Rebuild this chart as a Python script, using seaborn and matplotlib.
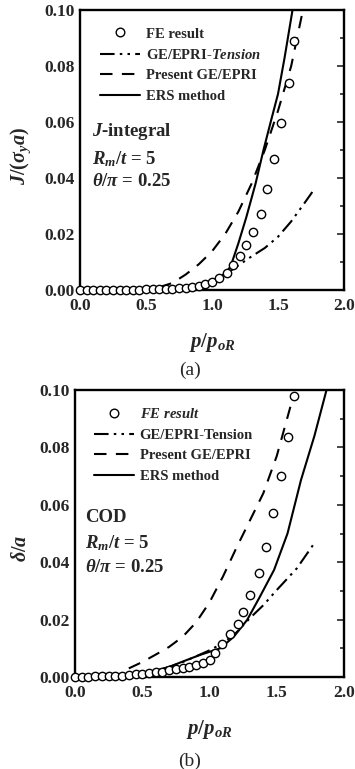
import numpy as np
import pandas as pd
import matplotlib
matplotlib.use("Agg")
import matplotlib.pyplot as plt
from matplotlib.lines import Line2D
from matplotlib.ticker import MultipleLocator
from matplotlib.font_manager import FontProperties
import seaborn as sns

# ---------------- data (a) J-integral ----------------
fe_x_a = [0.00, 0.05, 0.10, 0.15, 0.20, 0.25, 0.30, 0.35, 0.40, 0.45, 0.50,
          0.55, 0.60, 0.65, 0.70, 0.75, 0.80, 0.85, 0.90, 0.95, 1.00,
          1.055, 1.11, 1.16, 1.21, 1.26, 1.31, 1.37, 1.42, 1.47, 1.52, 1.58, 1.62]
fe_y_a = [0.0, 0.0, 0.0, 0.0, 0.0, 0.0, 0.0001, 0.0001, 0.0001, 0.0001, 0.0002,
          0.0002, 0.0003, 0.0004, 0.0005, 0.0006, 0.0008, 0.0011, 0.0015, 0.0021, 0.0030,
          0.0042, 0.0060, 0.0089, 0.0123, 0.0160, 0.0208, 0.0270, 0.0360, 0.0467, 0.0595, 0.0740, 0.0890]

tens_x_a = [0.6, 0.7, 0.8, 0.9, 1.0, 1.1, 1.2, 1.3, 1.4, 1.5, 1.6, 1.7, 1.76]
tens_y_a = [0.0002, 0.0004, 0.0008, 0.0015, 0.0028, 0.0055, 0.0088, 0.0120, 0.0150,
            0.0190, 0.0245, 0.0310, 0.0350]

pres_x_a = [0.6, 0.7, 0.8, 0.9, 1.0, 1.1, 1.2, 1.3, 1.4, 1.5, 1.6, 1.68]
pres_y_a = [0.0010, 0.0025, 0.0055, 0.0092, 0.0138, 0.0200, 0.0280, 0.0380, 0.0500,
            0.0640, 0.0800, 0.0980]

ers_x_a = [0.6, 0.7, 0.8, 0.9, 1.0, 1.05, 1.1, 1.14, 1.2, 1.26, 1.33, 1.39, 1.45, 1.5, 1.55, 1.61]
ers_y_a = [0.0003, 0.0006, 0.0011, 0.0018, 0.0030, 0.0042, 0.0060, 0.0083, 0.0167, 0.0260,
           0.0380, 0.0500, 0.0610, 0.0700, 0.0830, 0.1000]

# ---------------- data (b) COD ----------------
fe_x_b = [0.00, 0.05, 0.10, 0.15, 0.20, 0.25, 0.30, 0.35, 0.40, 0.45, 0.50,
          0.55, 0.60, 0.65, 0.70, 0.75, 0.80, 0.85, 0.90, 0.95, 1.00,
          1.04, 1.09, 1.15, 1.21, 1.25, 1.30, 1.37, 1.42, 1.47, 1.53, 1.58, 1.63]
fe_y_b = [0.0, 0.0001, 0.0001, 0.0002, 0.0002, 0.0003, 0.0004, 0.0005, 0.0007, 0.0009, 0.0011,
          0.0013, 0.0016, 0.0019, 0.0023, 0.0027, 0.0031, 0.0035, 0.0042, 0.0049, 0.0060,
          0.0085, 0.0115, 0.0150, 0.0185, 0.0228, 0.0286, 0.0361, 0.0454, 0.0570, 0.0700, 0.0836, 0.0980]

tens_x_b = [0.4, 0.5, 0.6, 0.7, 0.8, 0.9, 1.0, 1.1, 1.2, 1.3, 1.4, 1.5, 1.65, 1.77]
tens_y_b = [0.0007, 0.0013, 0.0022, 0.0035, 0.0052, 0.0072, 0.0093, 0.0118, 0.0155,
            0.0205, 0.0250, 0.0303, 0.0379, 0.0460]

pres_x_b = [0.4, 0.5, 0.6, 0.7, 0.8, 0.9, 1.0, 1.1, 1.2, 1.3, 1.4, 1.5, 1.63]
pres_y_b = [0.0030, 0.0052, 0.0078, 0.0105, 0.0140, 0.0190, 0.0260, 0.0350, 0.0450,
            0.0545, 0.0640, 0.0770, 0.0990]

ers_x_b = [0.4, 0.5, 0.6, 0.7, 0.78, 0.93, 1.08, 1.18, 1.28, 1.375, 1.48, 1.58, 1.68, 1.78, 1.87]
ers_y_b = [0.0007, 0.0013, 0.0022, 0.0035, 0.0050, 0.0077, 0.0100, 0.0140, 0.0199, 0.0280,
           0.0373, 0.0500, 0.0686, 0.0840, 0.1000]

x_ticks = [0.0, 0.5, 1.0, 1.5, 2.0]
y_ticks = [0.00, 0.02, 0.04, 0.06, 0.08, 0.10]

# ---------------- style ----------------
sns.set_style("white")
plt.rcParams['font.family'] = ['Liberation Serif', 'DejaVu Serif']
plt.rcParams['font.weight'] = 'bold'
plt.rcParams['mathtext.fontset'] = 'custom'
plt.rcParams['mathtext.rm'] = 'Liberation Serif:bold'
plt.rcParams['mathtext.it'] = 'Liberation Serif:bold:italic'
plt.rcParams['mathtext.bf'] = 'Liberation Serif:bold'

DASHDOT = (0, (7, 2.5, 1.2, 2.5, 1.2, 2.5))
DASHED = (0, (6, 4.5))
LW = 1.5

fig = plt.figure(figsize=(3.55, 7.69), dpi=100)
ax_a = fig.add_axes([80 / 355, 1 - 290 / 769, 264 / 355, 280 / 769])
ax_b = fig.add_axes([75 / 355, 1 - 677 / 769, 269 / 355, 287 / 769])

panels = [
    (ax_a, fe_x_a, fe_y_a, tens_x_a, tens_y_a, pres_x_a, pres_y_a, ers_x_a, ers_y_a),
    (ax_b, fe_x_b, fe_y_b, tens_x_b, tens_y_b, pres_x_b, pres_y_b, ers_x_b, ers_y_b),
]

for ax, fx, fy, tx, ty, px, py, ex, ey in panels:
    sns.lineplot(x=tx, y=ty, ax=ax, color='black', lw=LW, linestyle=DASHDOT)
    sns.lineplot(x=px, y=py, ax=ax, color='black', lw=LW, linestyle=DASHED)
    sns.lineplot(x=ex, y=ey, ax=ax, color='black', lw=LW, linestyle='-')
    sns.scatterplot(x=fx, y=fy, ax=ax, marker='o', s=36, facecolor='white',
                    edgecolor='black', linewidth=1.0, zorder=5, clip_on=False)
    ax.set_xlim(0, 2.0)
    ax.set_ylim(0, 0.10)
    ax.set_xticks(x_ticks)
    ax.set_yticks(y_ticks)
    ax.set_xticklabels([f"{v:.1f}" for v in x_ticks])
    ax.set_yticklabels([f"{v:.2f}" for v in y_ticks])
    ax.xaxis.set_minor_locator(MultipleLocator(0.1))
    ax.yaxis.set_minor_locator(MultipleLocator(0.01))
    ax.tick_params(which='both', direction='in', right=True, top=False,
                   labelsize=12.5, width=1.2)
    ax.tick_params(axis='x', which='both', pad=6)
    ax.tick_params(axis='y', which='both', pad=4)
    ax.tick_params(which='major', length=5)
    ax.tick_params(which='minor', length=3)
    for lab in ax.get_xticklabels() + ax.get_yticklabels():
        lab.set_fontweight('bold')
    for sp in ax.spines.values():
        sp.set_linewidth(1.7)
        sp.set_color('black')

# axis labels
ax_a.set_ylabel(r'$J/(\sigma_y a)$', fontsize=14.5)
ax_b.set_ylabel(r'$\delta/a$', fontsize=14.5)
ax_a.yaxis.set_label_coords((33 - 80) / 264, 0.48)
ax_b.yaxis.set_label_coords((31 - 75) / 269, 0.45)
for ax in (ax_a, ax_b):
    ax.set_xlabel(r'$p/p_{oR}$', fontsize=15, labelpad=12)

fig.text(190 / 355, 1 - 370 / 769, '(a)', ha='center', va='center',
         fontsize=14, fontweight='normal')
fig.text(190 / 355, 1 - 761 / 769, '(b)', ha='center', va='center',
         fontsize=14, fontweight='normal')

# annotations
def ann(ax, x0, lines):
    for txt, yy in lines:
        ax.text(x0, yy, txt, transform=ax.transAxes, fontsize=13.5, ha='left', va='center')

ann(ax_a, 0.045, [(r'$J$-integral', (290 - 132) / 280),
                  (r'$R_m/t$ = 5', (290 - 159) / 280),
                  (r'$\theta/\pi$ = 0.25', (290 - 182) / 280)])
ann(ax_b, 0.037, [('COD', (677 - 517) / 287),
                  (r'$R_m/t$ = 5', (677 - 543) / 287),
                  (r'$\theta/\pi$ = 0.25', (677 - 568) / 287)])

# legends
def make_handles():
    return [
        Line2D([], [], linestyle='none', marker='o', markersize=6.2,
               markerfacecolor='white', markeredgecolor='black', markeredgewidth=1.0),
        Line2D([], [], color='black', lw=LW, linestyle=DASHDOT),
        Line2D([], [], color='black', lw=LW, linestyle=DASHED),
        Line2D([], [], color='black', lw=LW, linestyle='-'),
    ]

labels_a = ['FE result', r'GE/EPRI-$Tension$', 'Present GE/EPRI', 'ERS method']
labels_b = [r'$FE\ result$', 'GE/EPRI-Tension', 'Present GE/EPRI', 'ERS method']
prop = FontProperties(family='Liberation Serif', weight='bold', size=10.5)

for ax, labels, bbox in [
    (ax_a, labels_a, (8 / 264, 0.0, 195 / 264, (290 - 15) / 280)),
    (ax_b, labels_b, (7 / 269, 0.0, 198 / 269, (677 - 395) / 287)),
]:
    leg = ax.legend(make_handles(), labels, loc='upper left', mode='expand',
                    bbox_to_anchor=bbox, bbox_transform=ax.transAxes,
                    borderaxespad=0, prop=prop, handlelength=2.7,
                    handletextpad=0.4, labelspacing=0.5, borderpad=0.85,
                    frameon=True, fancybox=False, framealpha=0)
    leg.get_frame().set_edgecolor('black')
    leg.get_frame().set_linewidth(0.9)
    leg.get_frame().set_facecolor('none')

fig.savefig('out.png', dpi=100)
